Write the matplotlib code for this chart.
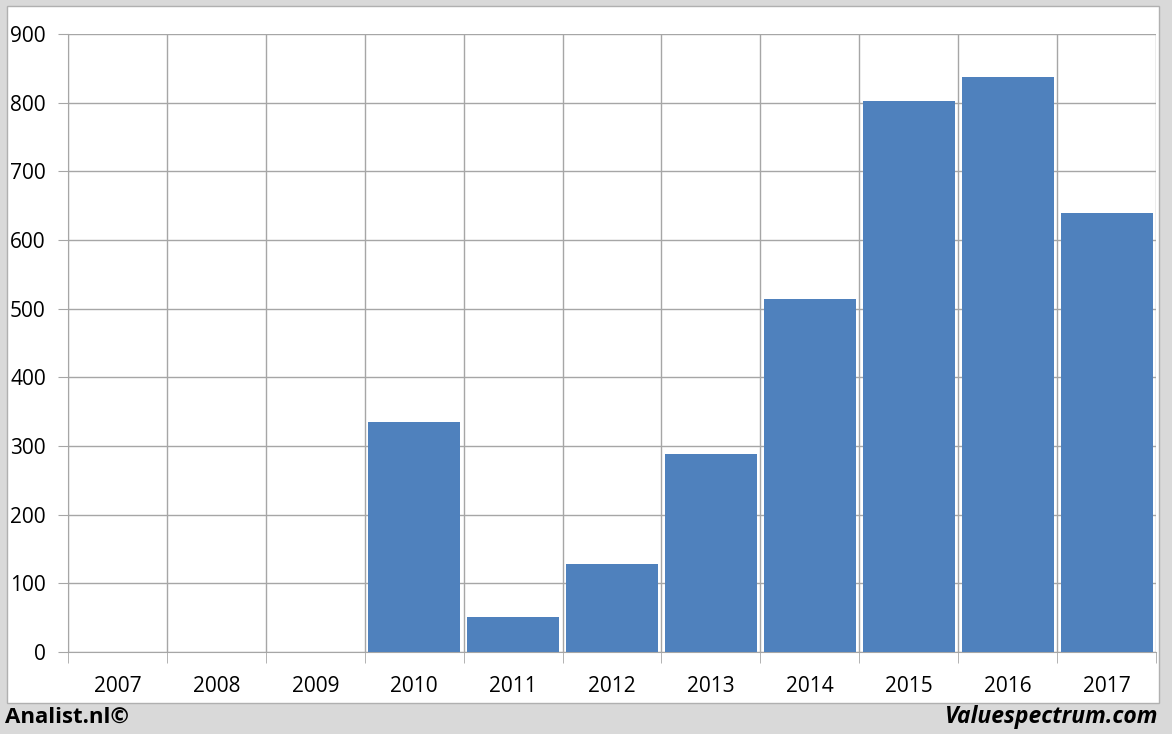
import numpy as np
import matplotlib
matplotlib.use("Agg")
import matplotlib.pyplot as plt
from matplotlib.patches import Rectangle
from matplotlib.ticker import FixedLocator, MultipleLocator

years = ['2007', '2008', '2009', '2010', '2011', '2012', '2013', '2014', '2015', '2016', '2017']
values = [0, 0, 0, 335, 51, 128, 288, 514, 803, 838, 640]

plt.rcParams['font.family'] = ['Open Sans', 'DejaVu Sans']

fig = plt.figure(figsize=(11.72, 7.34), dpi=100)
fig.patch.set_facecolor('#d9d9d9')

# white chart panel
fig.patches.append(Rectangle((7/1172, 1-703/734), 1152/1172, 697/734,
                             transform=fig.transFigure, facecolor='white',
                             edgecolor='#b0b0b0', linewidth=1, zorder=-5))

ax = fig.add_axes([68/1172, 1-652/734, 1088/1172, 618/734])
ax.set_zorder(2)
ax.set_facecolor('none')

x = np.arange(len(years))
ax.bar(x, values, width=0.93, color='#4f81bd', zorder=3)

ax.set_xlim(-0.5, len(years) - 0.5)
ax.set_ylim(0, 900)
ax.yaxis.set_major_locator(MultipleLocator(100))
ax.set_xticks(x)
ax.set_xticklabels(years)
ax.xaxis.set_minor_locator(FixedLocator(np.arange(-0.5, len(years), 1)))

ax.grid(axis='y', which='major', color='#a6a6a6', linewidth=1, zorder=1)
ax.grid(axis='x', which='minor', color='#a6a6a6', linewidth=1, zorder=1)

ax.tick_params(axis='x', which='major', length=0, pad=17, labelsize=15)
ax.tick_params(axis='x', which='minor', length=8, color='#a6a6a6')
ax.tick_params(axis='y', length=7, color='#a6a6a6', pad=9, labelsize=15)

for s in ax.spines.values():
    s.set_visible(False)
ax.spines['left'].set_visible(True)
ax.spines['left'].set_color('#a6a6a6')
ax.spines['bottom'].set_visible(True)
ax.spines['bottom'].set_color('#a6a6a6')

fig.text(5/1172, 1-717/734, 'Analist.nl©', fontsize=16, fontweight='bold',
         ha='left', va='center')
fig.text(1158/1172, 1-717/734, 'Valuespectrum.com', fontsize=16.5,
         fontweight='bold', fontstyle='italic', ha='right', va='center')

fig.savefig('out.png', dpi=100, facecolor=fig.get_facecolor())
